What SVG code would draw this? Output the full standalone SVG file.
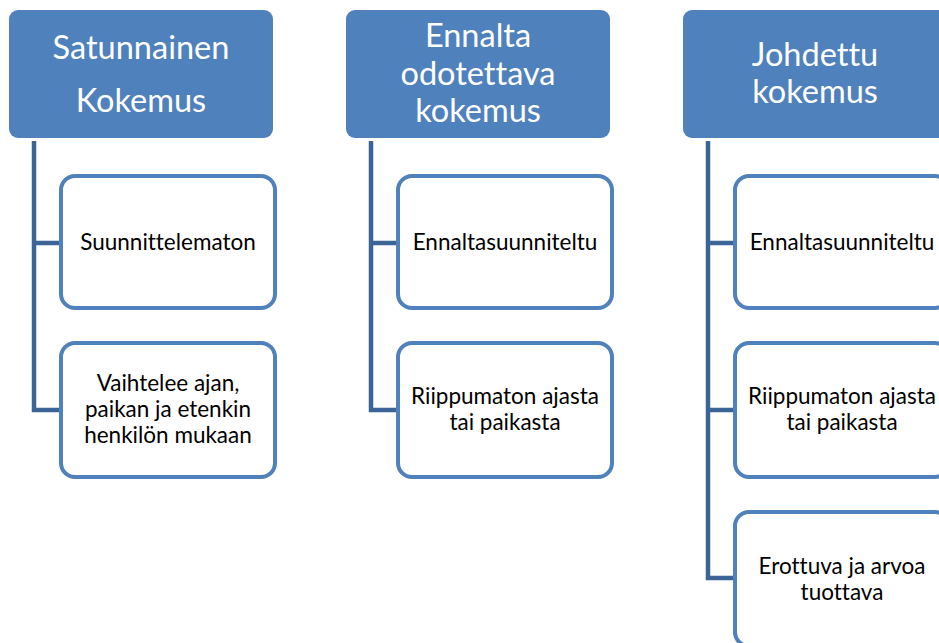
<svg xmlns="http://www.w3.org/2000/svg" width="939" height="643" viewBox="0 0 939 643">
<style>
.hdr{fill:#4f81bd}
.ht{font-family:Lato,"Open Sans",sans-serif;font-weight:400;font-size:32.5px;fill:#ffffff;text-anchor:middle;font-variant-ligatures:none}
.box{fill:#ffffff;stroke:#4f81bd;stroke-width:4}
.bt{font-family:Lato,"Open Sans",sans-serif;font-weight:400;font-size:22.5px;fill:#000000;text-anchor:middle;font-variant-ligatures:none}
.con{fill:none;stroke:#3c6597;stroke-width:4.5}
</style>
<rect width="939" height="643" fill="#ffffff"/>
<g id="connectors">
<path class="con" d="M34 141 V410 H62 M34 243 H62"/>
<path class="con" d="M371 141 V410 H399 M371 243 H399"/>
<path class="con" d="M708 141 V578 H736 M708 243 H736 M708 410 H736"/>
</g>
<g id="h1"><rect class="hdr" x="9" y="10" width="264" height="128" rx="9"/>
<text class="ht" x="141" y="59">Satunnainen</text><text class="ht" x="141" y="112">Kokemus</text></g>
<g id="h2"><rect class="hdr" x="346" y="10" width="264" height="128" rx="9"/>
<text class="ht" x="478" y="47">Ennalta</text><text class="ht" x="478" y="85">odotettava</text><text class="ht" x="478" y="122">kokemus</text></g>
<g id="h3"><rect class="hdr" x="683" y="10" width="264" height="128" rx="9"/>
<text class="ht" x="815" y="66">Johdettu</text><text class="ht" x="815" y="103">kokemus</text></g>
<g id="c1a"><rect class="box" x="61" y="176" width="214" height="132" rx="14"/>
<text class="bt" x="168" y="250">Suunnittelematon</text></g>
<g id="c1b"><rect class="box" x="61" y="343" width="214" height="134" rx="14"/>
<text class="bt" x="168" y="391">Vaihtelee ajan,</text><text class="bt" x="168" y="417">paikan ja etenkin</text><text class="bt" x="168" y="443">henkilön mukaan</text></g>
<g id="c2a"><rect class="box" x="398" y="176" width="214" height="132" rx="14"/>
<text class="bt" x="505" y="250">Ennaltasuunniteltu</text></g>
<g id="c2b"><rect class="box" x="398" y="343" width="214" height="134" rx="14"/>
<text class="bt" x="505" y="404">Riippumaton ajasta</text><text class="bt" x="505" y="430">tai paikasta</text></g>
<g id="c3a"><rect class="box" x="735" y="176" width="214" height="132" rx="14"/>
<text class="bt" x="842" y="250">Ennaltasuunniteltu</text></g>
<g id="c3b"><rect class="box" x="735" y="343" width="214" height="134" rx="14"/>
<text class="bt" x="842" y="404">Riippumaton ajasta</text><text class="bt" x="842" y="430">tai paikasta</text></g>
<g id="c3c"><rect class="box" x="735" y="512" width="214" height="134" rx="14"/>
<text class="bt" x="842" y="574">Erottuva ja arvoa</text><text class="bt" x="842" y="600">tuottava</text></g>
</svg>
